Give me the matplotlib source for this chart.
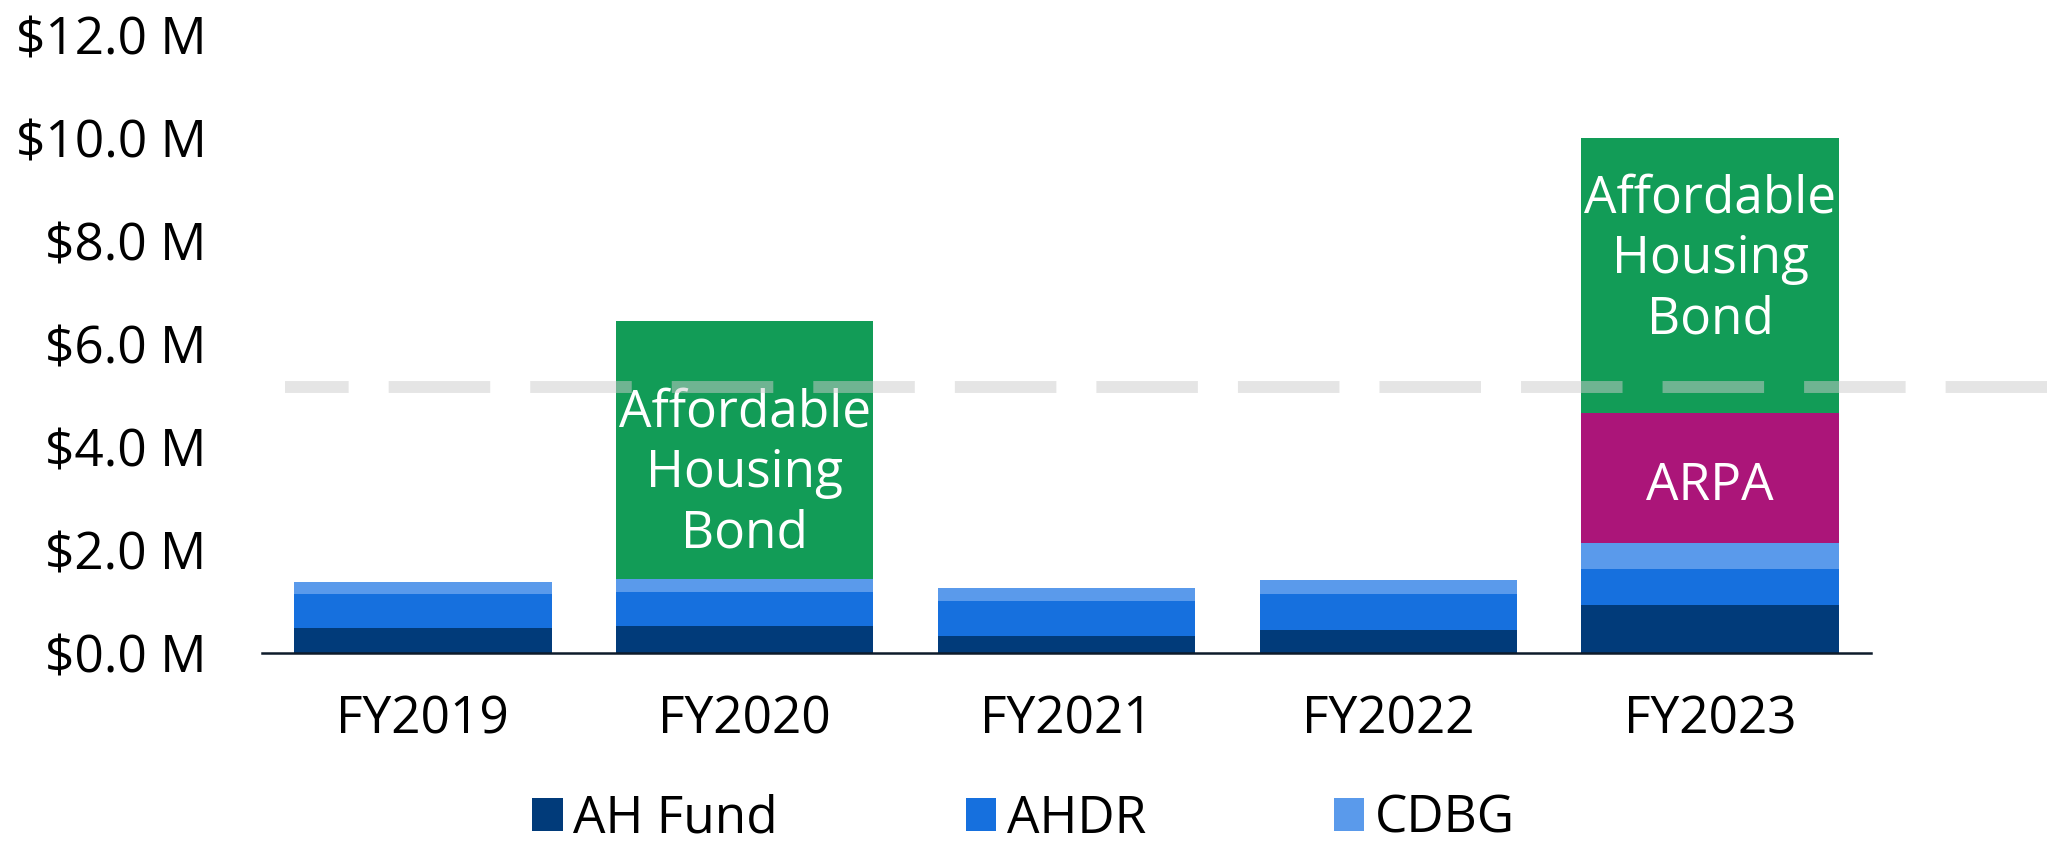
import matplotlib
matplotlib.use("Agg")
import matplotlib.pyplot as plt
import numpy as np

plt.rcParams['font.family'] = ['Open Sans', 'DejaVu Sans']

# values in $M
years = ["FY2019", "FY2020", "FY2021", "FY2022", "FY2023"]
ah_fund = [0.48, 0.51, 0.33, 0.45, 0.93]
ahdr = [0.67, 0.67, 0.67, 0.69, 0.69]
cdbg = [0.22, 0.26, 0.26, 0.27, 0.52]
arpa = [0.0, 0.0, 0.0, 0.0, 2.51]
bond = [0.0, 5.01, 0.0, 0.0, 5.35]
target = 5.16

ticks = [0, 2, 4, 6, 8, 10, 12]
tick_labels = ["$%.1f M" % t for t in ticks]

c_ah = "#013b7a"
c_ahdr = "#1670de"
c_cdbg = "#5a9aeb"
c_arpa = "#ab1579"
c_bond = "#129c57"

fig = plt.figure(figsize=(20.47, 8.43), dpi=100)
ax = fig.add_axes([0.128, 0.2257, 0.786, 0.7331])

x = np.arange(len(years))
w = 0.8
bottom = np.zeros(len(years))
bars = {}
for name, vals, col in [("AH Fund", ah_fund, c_ah), ("AHDR", ahdr, c_ahdr),
                        ("CDBG", cdbg, c_cdbg), ("ARPA", arpa, c_arpa),
                        ("Bond", bond, c_bond)]:
    vals = np.array(vals)
    bars[name] = ax.bar(x, vals, w, bottom=bottom, color=col, linewidth=0)
    if name in ("ARPA", "Bond"):
        for i, v in enumerate(vals):
            if v <= 0:
                continue
            mid = bottom[i] + v / 2
            if name == "ARPA":
                ax.text(x[i], mid - 0.17, "ARPA", color="white", fontsize=37,
                        ha="center", va="center")
            else:
                off = -0.46 if i == 1 else 0.31
                ax.text(x[i], mid + off, "Affordable\nHousing\nBond", color="white",
                        fontsize=37, ha="center", va="center", linespacing=1.25)
    bottom = bottom + vals

# dashed reference line, runs past the right edge of the axes
ax.plot([0.0143, 1.12], [target, target], transform=ax.get_yaxis_transform(),
        color="#cdcdcd", alpha=0.5, linewidth=8.6,
        linestyle=(3.17, (8.5, 3.35)),
        solid_capstyle="butt", dash_capstyle="butt", clip_on=False, zorder=5)

ax.set_xlim(-0.5, 4.5)
ax.set_ylim(0, 12)
ax.set_yticks(ticks)
ax.set_yticklabels(tick_labels)
ax.set_xticks(x)
ax.set_xticklabels(years)
ax.tick_params(axis="y", length=0, pad=40, labelsize=37)
ax.tick_params(axis="x", length=0, pad=30, labelsize=37)
for s in ["top", "right", "left"]:
    ax.spines[s].set_visible(False)
ax.spines["bottom"].set_color("#0d1b2a")
ax.spines["bottom"].set_linewidth(1.8)

leg = fig.legend([bars["AH Fund"], bars["AHDR"], bars["CDBG"]],
                 ["AH Fund", "AHDR", "CDBG"], loc="center",
                 bbox_to_anchor=(0.5, 0.028), ncol=3, frameon=False,
                 fontsize=37, handlelength=0.6, handleheight=0.6,
                 handletextpad=0.2, columnspacing=3.65, borderpad=0.2)

fig.savefig("out.png", dpi=100)
